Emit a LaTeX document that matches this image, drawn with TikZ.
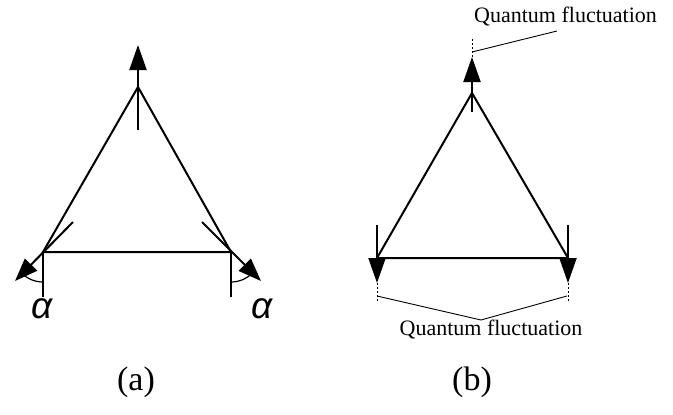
\documentclass[tikz,border=0pt]{standalone}
\usepackage{fontspec}
\setmainfont{Liberation Serif}
\newfontfamily\greekfont{Liberation Sans}
\usetikzlibrary{arrows.meta}
\begin{document}
\begin{tikzpicture}[x=1pt,y=-1pt,
  edge/.style={line width=2pt},
  spin/.style={line width=2pt,-{Triangle[length=25pt,width=17pt]}},
  tspin/.style={line width=2pt,-{Triangle[length=23pt,width=17pt]}},
  thin line/.style={line width=1.2pt},
  leader/.style={line width=0.9pt},
  qdash/.style={line width=0.9pt,dash pattern=on 2pt off 2pt},
  lbl/.style={font=\fontsize{22}{24}\selectfont, inner sep=0pt},
  cap label/.style={font=\fontsize{34}{36}\selectfont, inner sep=0pt},
  alpha label/.style={font=\greekfont\itshape\fontsize{37}{40}\selectfont, inner sep=0pt}]
\useasboundingbox (0,0) rectangle (673,415);
% ---------- (a) ----------
\coordinate (a1) at (138,87);
\coordinate (a2) at (43,252);
\coordinate (a3) at (231,252);
\draw[edge] (a2) -- (a1) -- (a3) -- cycle;
\coordinate (a1s) at (138,130);
\coordinate (a1t) at (138,45);
\draw[spin] (a1s) -- (a1t);
\coordinate (a2s) at (73,222);
\coordinate (a2t) at (15,281);
\draw[tspin] (a2s) -- (a2t);
\coordinate (a3s) at (202,222);
\coordinate (a3t) at (261,281);
\draw[tspin] (a3s) -- (a3t);
\coordinate (a2d) at (43,297);
\coordinate (a3d) at (231,297);
\draw[thin line] (a2) -- (a2d);
\draw[thin line] (a3) -- (a3d);
\draw[thin line] ([shift={(135:30)}]a2) arc[start angle=135,end angle=90,radius=30];
\draw[thin line] ([shift={(90:30)}]a3) arc[start angle=90,end angle=45,radius=30];
\node[alpha label] (alphaL) at (42,309) {α};
\node[alpha label] (alphaR) at (262,309) {α};
\node[cap label] (capa) at (136,382) {(a)};
% ---------- (b) ----------
\coordinate (b1) at (472,93);
\coordinate (b2) at (377,258);
\coordinate (b3) at (568,258);
\draw[edge] (b2) -- (b1) -- (b3) -- cycle;
\coordinate (b1s) at (472,112);
\coordinate (b1t) at (472,57);
\draw[spin] (b1s) -- (b1t);
\coordinate (b2s) at (377,225);
\coordinate (b2t) at (377,283);
\draw[spin] (b2s) -- (b2t);
\coordinate (b3s) at (568,225);
\coordinate (b3t) at (568,283);
\draw[spin] (b3s) -- (b3t);
% quantum fluctuation dashes
\coordinate (b1q) at (472,37);
\draw[qdash] (b1t) -- (b1q);
\coordinate (b2q) at (377,302);
\coordinate (b3q) at (568,302);
\draw[qdash] (b2t) -- (b2q);
\draw[qdash] (b3t) -- (b3q);
% labels and leaders
\node[lbl, anchor=west] (qtop) at (474,17) {Quantum fluctuation};
\coordinate (lt0) at (472,52);
\coordinate (lt1) at (557,31);
\draw[leader] (lt0) -- (lt1);
\node[lbl] (qbot) at (491,330) {Quantum fluctuation};
\coordinate (lb0) at (377,296);
\coordinate (lb1) at (481,320);
\coordinate (lb2) at (567,296);
\draw[leader] (lb0) -- (lb1) -- (lb2);
\node[cap label] (capb) at (472,382) {(b)};
\end{tikzpicture}
\end{document}
